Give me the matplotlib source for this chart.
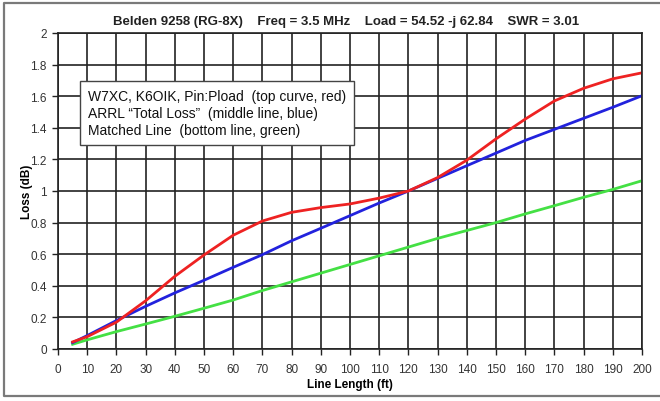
import matplotlib
matplotlib.use("Agg")
import matplotlib.pyplot as plt
from matplotlib.lines import Line2D

# data
length_ft = [5, 10, 20, 30, 40, 50, 60, 70, 80, 90, 100, 110, 120, 130, 140, 150, 160, 170, 180, 190, 200]
loss_red = [0.045, 0.078, 0.17, 0.305, 0.46, 0.595, 0.72, 0.81, 0.865, 0.895, 0.918, 0.955, 1.0, 1.085, 1.195, 1.33, 1.455, 1.57, 1.65, 1.71, 1.748]
loss_blue = [0.04, 0.085, 0.18, 0.27, 0.355, 0.435, 0.517, 0.597, 0.685, 0.764, 0.844, 0.924, 1.0, 1.08, 1.16, 1.24, 1.32, 1.39, 1.46, 1.53, 1.603]
loss_green = [0.03, 0.058, 0.11, 0.158, 0.207, 0.258, 0.31, 0.37, 0.425, 0.48, 0.535, 0.59, 0.645, 0.70, 0.75, 0.80, 0.855, 0.907, 0.96, 1.01, 1.065]

x_ticks = list(range(0, 201, 10))
y_ticks = [0, 0.2, 0.4, 0.6, 0.8, 1, 1.2, 1.4, 1.6, 1.8, 2]
y_tick_labels = ["0", "0.2", "0.4", "0.6", "0.8", "1", "1.2", "1.4", "1.6", "1.8", "2"]

title = "Belden 9258 (RG-8X)    Freq = 3.5 MHz    Load = 54.52 -j 62.84    SWR = 3.01"
legend_text = ("W7XC, K6OIK, Pin:Pload  (top curve, red)\n"
               "ARRL \u201cTotal Loss\u201d  (middle line, blue)\n"
               "Matched Line  (bottom line, green)")

font = ["Liberation Sans", "DejaVu Sans"]

fig = plt.figure(figsize=(6.6, 4.02), dpi=100)

# outer frame: left, top and bottom only (right side runs off the picture)
W, H = 660.0, 402.0
frame_x = [660 / W, 3.5 / W, 3.5 / W, 660 / W]
frame_y = [1 - 4 / H, 1 - 4 / H, 1 - 397 / H, 1 - 397 / H]
fig.add_artist(Line2D(frame_x, frame_y, transform=fig.transFigure,
                      color="#7a7a7a", linewidth=1.6))

ax = fig.add_axes([58 / W, 52 / H, 584 / W, 316 / H])
ax.set_xlim(0, 200)
ax.set_ylim(0, 2)
ax.set_xticks(x_ticks)
ax.set_yticks(y_ticks)
ax.set_yticklabels(y_tick_labels)
ax.grid(True, color="#222222", linewidth=1.2)
ax.set_axisbelow(True)
for s in ax.spines.values():
    s.set_color("#222222")
    s.set_linewidth(1.2)
ax.tick_params(direction="out", length=4, width=1.0, color="#222222",
               labelsize=8.5, labelcolor="#333333")
ax.tick_params(axis="x", pad=6)
ax.tick_params(axis="y", pad=4)
for lab in ax.get_xticklabels() + ax.get_yticklabels():
    lab.set_family(font)

ax.plot(length_ft, loss_green, color="#44e044", linewidth=2)
ax.plot(length_ft, loss_blue, color="#2222dd", linewidth=2)
ax.plot(length_ft, loss_red, color="#ee2222", linewidth=2)

ax.set_xlabel("Line Length (ft)", family=font, fontsize=8.5, fontweight="bold", labelpad=2)
ax.set_ylabel("Loss (dB)", family=font, fontsize=8.5, fontweight="bold", labelpad=-2)

fig.text(346 / W, 1 - 22 / H, title, family=font, fontsize=9.5, fontweight="bold",
         ha="center", va="center", color="#222222")

ax.text(88 / W, 1 - 114 / H, legend_text, transform=fig.transFigure,
        family=font, fontsize=10, va="center", ha="left", linespacing=1.3,
        color="#111111",
        bbox=dict(boxstyle="square,pad=0.55", facecolor="white", edgecolor="#444444", linewidth=1))

fig.savefig("out.png", dpi=100)
